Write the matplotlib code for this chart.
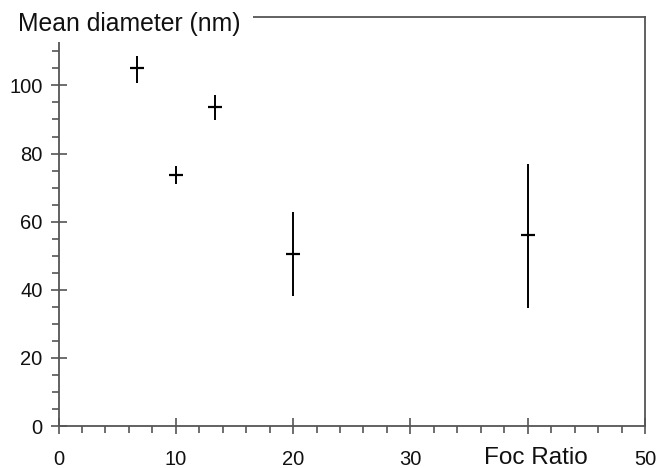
import matplotlib
matplotlib.use("Agg")
import matplotlib.pyplot as plt
from matplotlib.patches import Rectangle
from matplotlib.ticker import MultipleLocator

plt.rcParams['font.family'] = ['Liberation Sans', 'DejaVu Sans']

# Data
foc_ratio = [6.67, 10.0, 13.33, 20.0, 40.0]
mean_diameter = [105.0, 73.7, 93.6, 50.5, 56.0]
err_low = [4.3, 2.7, 3.8, 12.2, 21.4]
err_high = [3.7, 2.7, 3.7, 12.2, 20.8]
xticks = [0, 10, 20, 30, 40, 50]
xtick_labels = ['0', '10', '20', '30', '', '50']
yticks = [0, 20, 40, 60, 80, 100]
ytick_labels = ['0', '20', '40', '60', '80', '100']

W, H = 658, 468
fig = plt.figure(figsize=(W / 100, H / 100), dpi=100)
ax = fig.add_axes([58.5 / W, 1 - 426 / H, (645 - 58.5) / W, (426 - 17.3) / H])

ax.errorbar(foc_ratio, mean_diameter, yerr=[err_low, err_high], fmt='_',
            color='black', ecolor='black', elinewidth=1.4, capsize=0,
            markersize=10, markeredgewidth=1.6)

ax.set_xlim(0, 50)
ax.set_ylim(0, 120)
ax.set_xticks(xticks)
ax.set_xticklabels(xtick_labels)
ax.set_yticks(yticks)
ax.set_yticklabels(ytick_labels)
ax.xaxis.set_minor_locator(MultipleLocator(2))
ax.yaxis.set_minor_locator(MultipleLocator(5))

spine_col = '#555555'
for s in ax.spines.values():
    s.set_color(spine_col)
    s.set_linewidth(1.3)

ax.tick_params(axis='both', which='major', direction='inout', length=12,
               width=1.2, color=spine_col, labelsize=14.5, labelcolor='#111111')
ax.tick_params(axis='x', which='major', pad=11)
ax.tick_params(axis='y', which='major', pad=5.5)
ax.tick_params(axis='both', which='minor', direction='out', length=5,
               width=1.2, color=spine_col)

# title block covering top-left corner of the frame
fig.add_artist(Rectangle((0, 1 - 42 / H), 253 / W, 42 / H,
                         transform=fig.transFigure, facecolor='white',
                         edgecolor='none', zorder=5))
fig.text(18 / W, 1 - 24 / H, 'Mean diameter (nm)', fontsize=17.8,
         ha='left', va='center', color='#111111', zorder=6)

fig.text(535.5 / W, 1 - 458 / H, 'Foc Ratio', fontsize=17.5,
         ha='center', va='center', color='#111111', zorder=6)

fig.savefig('out.png', dpi=100)
